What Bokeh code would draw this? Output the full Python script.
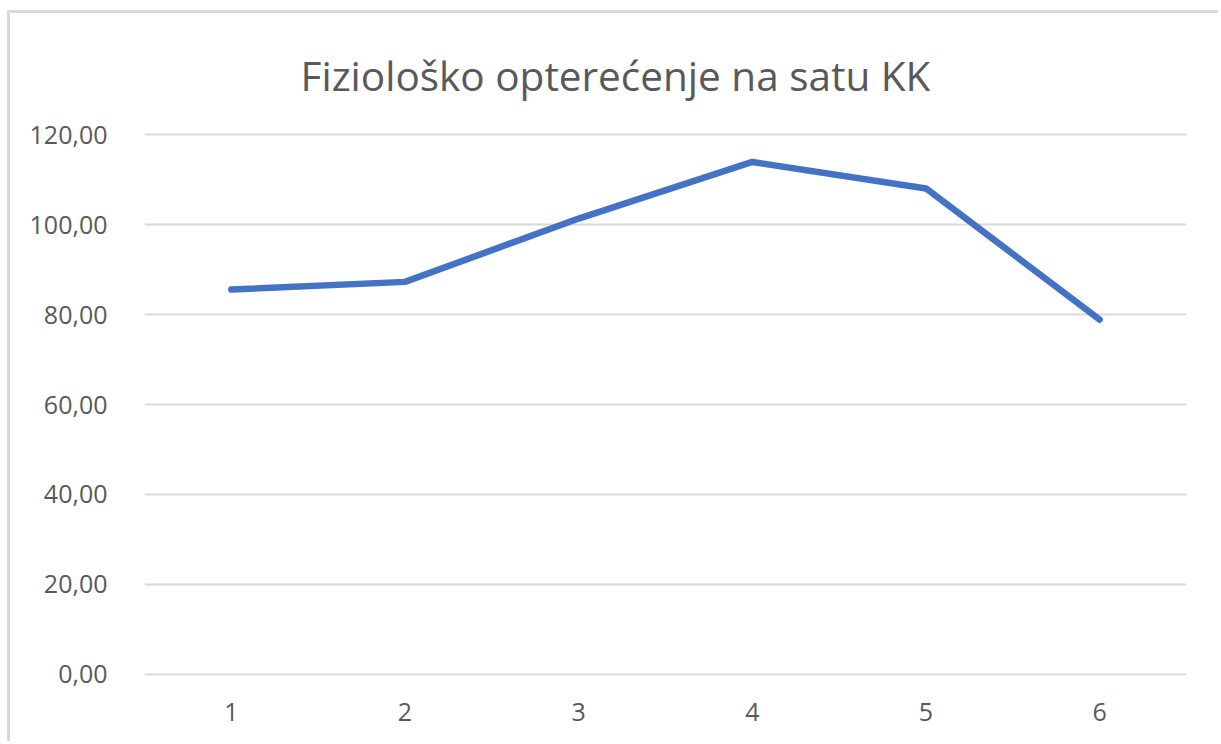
from bokeh.plotting import figure
from bokeh.models import FactorRange, Range1d, FixedTicker, CustomJSTickFormatter, Title
from bokeh.embed import file_html
from bokeh.resources import INLINE

categories = ["1", "2", "3", "4", "5", "6"]
values = [85.6, 87.3, 101.4, 114.0, 108.1, 78.9]
y_ticks = [0, 20, 40, 60, 80, 100, 120]
title_text = "Fiziološko opterećenje na satu KK"

FONT = "Open Sans"
TEXT_COLOR = "#595959"
GRID_COLOR = "#d9d9d9"

p = figure(
    width=1211, height=731,
    x_range=FactorRange(*categories, range_padding=0),
    y_range=Range1d(-1.0, 121.0),
    output_backend="svg", toolbar_location=None,
    min_border_left=134, min_border_right=35,
    min_border_top=117, min_border_bottom=66,
    background_fill_color="white", border_fill_color="white",
    styles={"margin-left": "7px", "margin-top": "10px",
            "border-left": "3px solid #d9d9d9", "border-top": "3px solid #d9d9d9"},
)
p.outline_line_color = None

t = Title(text=title_text, align="left", offset=156,
          text_font=FONT, text_font_size="40.5px", text_font_style="normal",
          text_color=TEXT_COLOR, standoff=55)
p.add_layout(t, "above")

p.line(x=categories, y=values, line_color="#4472C4", line_width=6.5,
       line_cap="round", line_join="round")

# axes
p.yaxis.ticker = FixedTicker(ticks=y_ticks)
p.yaxis.formatter = CustomJSTickFormatter(code="return tick.toFixed(2).replace('.', ',');")
p.yaxis.axis_line_color = None
p.yaxis.major_tick_line_color = None
p.yaxis.minor_tick_line_color = None
p.yaxis.major_label_standoff = 31
p.yaxis.major_label_text_font = FONT
p.yaxis.major_label_text_font_size = "25px"
p.yaxis.major_label_text_color = TEXT_COLOR

p.xaxis.axis_line_color = None
p.xaxis.major_tick_line_color = None
p.xaxis.minor_tick_line_color = None
p.xaxis.major_label_standoff = 18
p.xaxis.major_label_text_font = FONT
p.xaxis.major_label_text_font_size = "25px"
p.xaxis.major_label_text_color = TEXT_COLOR

p.xgrid.grid_line_color = None
p.ygrid.grid_line_color = GRID_COLOR
p.ygrid.grid_line_width = 2

open("out.html", "w").write(file_html(p, INLINE))
